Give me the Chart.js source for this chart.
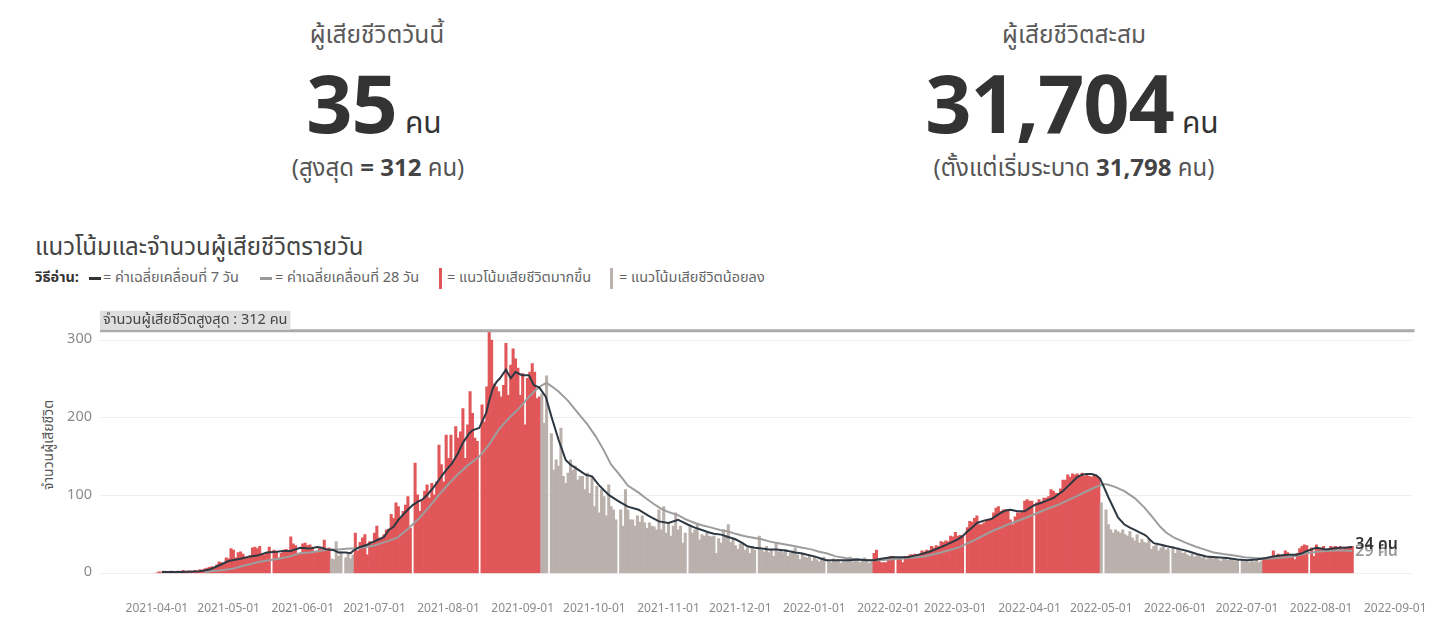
<!DOCTYPE html>
<html><head><meta charset="utf-8">
<script src="https://cdn.jsdelivr.net/npm/chart.js@4.4.1/dist/chart.umd.min.js"></script>
<style>
html,body{margin:0;padding:0;background:#fff;width:1448px;height:636px;overflow:hidden;
 font-family:"Noto Sans Thai","Noto Sans Thai UI","Noto Sans","Open Sans",sans-serif;}
.abs{position:absolute;white-space:nowrap;}
.kpi{position:absolute;text-align:center;white-space:nowrap;}
.klabel{font-size:24.5px;line-height:30px;color:#5a5a5a;}
.knum{font-size:81px;line-height:81px;color:#333;font-family:"Open Sans","Noto Sans Thai",sans-serif;font-weight:700;letter-spacing:-1px;}
.knum .u{font-size:30px;font-weight:400;font-family:"Noto Sans Thai","Noto Sans",sans-serif;letter-spacing:0;margin-left:8px;}
.ksub{font-size:24px;line-height:34px;color:#555;}
.ksub b{color:#444;}
.title{font-size:24px;line-height:34px;color:#444;left:35px;top:231px;}
.leg{font-size:14.5px;line-height:20px;color:#666;top:268px;}
.dash{position:absolute;height:3px;width:12px;top:277px;}
.vbar{position:absolute;width:3px;height:21px;top:268px;}
#ytitle{position:absolute;left:48px;top:445px;transform:translate(-50%,-50%) rotate(-90deg);font-size:14px;color:#555;white-space:nowrap;}
#wrap{position:absolute;left:0;top:300px;width:1448px;height:336px;}
</style></head>
<body>
<div class="kpi" style="left:177px;width:400px;top:21px"><div class="klabel">ผู้เสียชีวิตวันนี้</div></div>
<div class="kpi" style="left:174px;width:400px;top:61px"><div class="knum"><span id="todayNum"></span><span class="u">คน</span></div></div>
<div class="kpi" style="left:178px;width:400px;top:152px"><div class="ksub">(สูงสุด <b>= <span id="peakNum"></span></b> คน)</div></div>

<div class="kpi" style="left:874px;width:400px;top:21px"><div class="klabel">ผู้เสียชีวิตสะสม</div></div>
<div class="kpi" style="left:872px;width:400px;top:61px"><div class="knum"><span id="cumNum"></span><span class="u">คน</span></div></div>
<div class="kpi" style="left:874px;width:400px;top:152px"><div class="ksub">(ตั้งแต่เริ่มระบาด <b><span id="allNum"></span></b> คน)</div></div>

<div class="abs title">แนวโน้มและจำนวนผู้เสียชีวิตรายวัน</div>
<div class="abs leg" style="left:35px;color:#333;font-weight:700">วิธีอ่าน:</div>
<div class="dash" style="left:89px;background:#333"></div>
<div class="abs leg" style="left:103px">= ค่าเฉลี่ยเคลื่อนที่ 7 วัน</div>
<div class="dash" style="left:260px;background:#999"></div>
<div class="abs leg" style="left:275px">= ค่าเฉลี่ยเคลื่อนที่ 28 วัน</div>
<div class="vbar" style="left:439px;background:#e15759"></div>
<div class="abs leg" style="left:447px">= แนวโน้มเสียชีวิตมากขึ้น</div>
<div class="vbar" style="left:610px;background:#bab0ac"></div>
<div class="abs leg" style="left:619px">= แนวโน้มเสียชีวิตน้อยลง</div>

<div id="ytitle">จำนวนผู้เสียชีวิต</div>
<div id="wrap"><canvas id="c"></canvas></div>

<script>
// ---------- DATA ----------
const todayDeaths = 35;
const cumulativeDeaths = 31704;
const totalSinceStart = 31798;
const startDate = '2021-04-01';

// daily deaths from 2021-04-01 to 2022-08-14 (null = no bar shown)
const dailyDeaths = [
 1,2,1,3,2,2,3,2,1,3,
 2,4,2,3,3,2,4,3,5,4,
 6,7,8,9,7,11,15,14,12,20,
 19,32,30,20,27,28,25,21,20,23,
 33,34,32,35,25,24,27,34,null,30,
 28,20,26,30,31,28,47,38,36,26,
 25,38,39,36,37,34,28,27,32,31,
 43,32,33,19,18,41,22,28,null,20,
 25,19,24,52,29,40,46,50,24,41,
 38,52,61,46,44,50,56,57,76,71,
 91,86,71,80,88,99,58,null,142,101,
 80,93,106,114,97,116,101,118,165,140,
 118,178,148,178,144,189,174,182,212,148,
 191,234,206,174,170,null,217,195,240,312,
 300,244,240,234,227,242,296,229,268,289,
 276,264,229,257,191,251,259,270,259,225,
 227,231,193,254,null,180,133,146,138,187,
 125,116,129,146,133,138,120,125,125,108,
 129,103,125,86,112,78,108,99,74,114,
 86,82,69,null,82,61,108,82,69,69,
 61,74,66,74,65,58,65,61,60,56,
 82,56,86,52,65,48,61,78,56,61,
 39,52,null,61,52,56,63,43,50,48,
 52,48,47,48,26,45,39,56,48,63,
 40,44,36,31,38,39,30,33,26,35,
 30,null,48,30,28,35,27,31,22,39,
 28,30,27,31,22,26,29,33,24,18,
 26,21,20,23,16,22,18,15,19,21,
 null,17,14,19,16,18,13,15,17,19,
 21,15,17,19,14,18,20,16,13,15,
 26,30,18,14,14,14,20,22,22,null,
 20,20,14,22,22,24,24,25,23,24,
 29,28,30,29,35,33,36,35,41,40,
 42,41,48,47,53,48,49,48,null,59,
 67,66,71,74,63,63,65,69,69,70,
 78,84,86,80,82,82,82,69,63,73,
 78,78,80,93,95,93,93,null,91,95,
 92,97,97,99,108,106,103,103,109,120,
 120,127,124,128,127,128,126,129,125,128,
 125,124,126,125,123,91,null,82,63,56,
 52,56,54,52,56,50,48,54,46,42,
 50,39,44,40,39,44,31,35,37,29,
 33,36,30,32,null,35,26,33,29,26,
 27,24,22,25,21,23,24,20,22,18,
 21,22,19,20,18,16,19,20,17,19,
 18,16,18,null,16,15,17,14,16,15,
 17,14,16,18,20,19,20,29,22,25,
 22,24,29,27,20,22,18,26,32,35,
 37,36,null,33,22,37,31,31,35,31,
 29,35,34,35,33,35,31,34,33,35,
 35
];

// trend periods (red = rising, gray = falling)
const trendPeriods = [
 ['2021-04-01','2021-06-12','up'],
 ['2021-06-13','2021-06-22','down'],
 ['2021-06-23','2021-09-08','up'],
 ['2021-09-09','2022-01-25','down'],
 ['2022-01-26','2022-04-30','up'],
 ['2022-05-01','2022-07-07','down'],
 ['2022-07-08','2022-08-14','up']
];

// 7-day moving average: [day offset from startDate, value]
const ma7Points = [[2,2],[10,2],[18,3],[22,5],[25,9],[30,16],[35,19],[39,22],[42,23],[46,27],[50,28],[53,29],[56,29],[60,33],[64,32],[67,34],[69,33],[71,31],[74,30],[76,27],[79,27],[81,26],[82,29],[84,33],[86,35],[88,37],[90,40],[93,44],[95,47],[97,56],[99,60],[101,69],[104,79],[107,88],[109,92],[111,95],[113,101],[115,108],[117,116],[119,125],[121,133],[123.5,142],[126,155],[128,168],[130.6,180],[132,184],[134.8,187],[136,195],[137.7,206],[139,222],[140.5,238],[142,246],[143.5,251],[146,262],[148,251],[150,259],[152.7,255],[155.6,255],[157.7,242],[160,239],[162.7,227],[165,202],[168,172],[171,146],[173,140],[176.5,133],[179.4,127],[182,125],[184.8,114],[187,107],[189,101],[193,93],[197,86],[201.5,82],[205.7,74],[210,67],[214,65],[218,69],[219.4,67],[222,63],[225,59],[228,56],[230.7,53],[233,51],[236,50],[239,47],[242,44],[245,39],[247,35],[250,33],[253,32],[256,31],[259,31],[262,30],[264,29],[267,27],[269.5,26],[272,24],[275,22],[278,19],[280,17],[285,17],[290,17],[293,18],[297,17],[300,17],[303,19],[307,21],[310,21],[314,21],[317,23],[321,26],[324,29],[328,34],[331,38],[335,44],[337,48],[339,54],[341,59],[343,65],[346,68],[349,70],[351,74],[353,78],[355,81],[357,82],[358.5,81],[360,80],[363,80],[365,84],[367,88],[370,91],[372.5,94],[375,97],[376.7,101],[379,106],[381,112],[383,118],[385,124],[387,127],[389,128],[391,128],[393,126],[394.5,122],[396,112],[398,98],[400.5,82],[402,72],[404.7,63],[407,59],[409,56],[411,53],[413,50],[414,48],[415.5,43],[417,39],[420,37],[422.6,35],[427,32],[431,29],[435,25],[439,22],[443,21],[447.6,20],[452,18],[456,17],[460,18],[464,20],[467,22],[469.8,23],[473,24],[476.8,24],[479,26],[481,29],[483,31],[485,33],[487,32],[489,31],[492,32],[494.8,33],[497,33],[500,34]];

// 28-day moving average: [day offset from startDate, value]
const ma28Points = [[20,2],[22,3],[26,4],[31.7,6],[35,9],[38.8,12],[43,15],[47,17],[51,19],[55.5,22],[59.7,26],[64,27],[68,29],[72,31],[76,31],[80.5,32],[84,32],[87.6,34],[91,36],[94,39],[97,42],[100.5,46],[103,52],[106,60],[109.7,71],[114,86],[118,101],[122,115],[126.4,129],[130,139],[134.8,150],[139,166],[143,185],[147,199],[151.4,212],[155,225],[158.5,236],[161,242],[163,245],[165,241],[168,234],[172,222],[176.5,205],[180,192],[183.6,176],[187,158],[190,140],[193,129],[197,113],[201.5,104],[204.4,97],[208,89],[211,83],[214,79],[218,75],[221,70],[225,65],[228,62],[232,59],[235.5,56],[239,54],[242,51],[246,48],[249.5,46],[253,44],[256.5,41],[260,39],[263.5,37],[267,35],[270,33],[273.7,31],[277,28],[280,26],[284,22],[288,20],[293,18],[298,17],[302,17],[307,18],[314,20],[321,22],[328,27],[335,33],[342,43],[349,54],[356,63],[363,71],[370,80],[376.7,88],[383,97],[390.5,108],[394,113],[396,115],[398,114],[401,111],[404.7,106],[409,97],[413,85],[416,74],[419.7,60],[422,53],[425.5,46],[430,40],[434,35],[438,31],[442,27],[446,25],[450.7,23],[455,21],[459,20],[464,19],[468,20],[472.7,21],[477,23],[481,26],[485,28],[489,29],[494,30],[500,29]];

const xTickLabels = ['2021-04-01','2021-05-01','2021-06-01','2021-07-01','2021-08-01','2021-09-01','2021-10-01','2021-11-01','2021-12-01','2022-01-01','2022-02-01','2022-03-01','2022-04-01','2022-05-01','2022-06-01','2022-07-01','2022-08-01','2022-09-01'];
const yTickValues = [0,100,200,300];

// ---------- RENDER ----------
const FONT = '"Noto Sans Thai","Noto Sans Thai UI","Noto Sans","Open Sans",sans-serif';
const dayIndex = s => Math.round((Date.parse(s) - Date.parse(startDate)) / 86400000);
const fmt = n => n.toLocaleString('en-US');

document.getElementById('todayNum').textContent = todayDeaths;
document.getElementById('cumNum').textContent = fmt(cumulativeDeaths);
document.getElementById('allNum').textContent = fmt(totalSinceStart);
const peak = Math.max(...dailyDeaths.filter(v => v != null));
document.getElementById('peakNum').textContent = peak;

const RED = '#e15759', GRAY = '#bab0ac';
const colorFor = i => {
  for (const [a, b, t] of trendPeriods) {
    if (i >= dayIndex(a) && i <= dayIndex(b)) return t === 'up' ? RED : GRAY;
  }
  return GRAY;
};

const annot = {
  id: 'annot',
  afterDatasetsDraw(chart) {
    const {ctx, chartArea: a, scales: {x, y}} = chart;
    const py = y.getPixelForValue(peak);
    ctx.save();
    ctx.strokeStyle = '#ababab'; ctx.lineWidth = 3;
    ctx.beginPath(); ctx.moveTo(a.left, py); ctx.lineTo(a.right + 3, py); ctx.stroke();
    ctx.font = '14.5px ' + FONT;
    const txt = 'จำนวนผู้เสียชีวิตสูงสุด : ' + peak + ' คน';
    const w = ctx.measureText(txt).width + 6;
    ctx.fillStyle = '#dedede'; ctx.fillRect(a.left, py - 20, w, 19);
    ctx.fillStyle = '#444'; ctx.textBaseline = 'middle'; ctx.textAlign = 'left';
    ctx.fillText(txt, a.left + 3, py - 10);
    // end labels
    const l28 = ma28Points[ma28Points.length - 1], l7 = ma7Points[ma7Points.length - 1];
    ctx.font = '600 16px ' + FONT;
    ctx.fillStyle = '#9b9b9b';
    ctx.fillText(l28[1] + ' คน', x.getPixelForValue(l28[0]) + 3, y.getPixelForValue(l28[1]) + 2);
    ctx.fillStyle = '#333';
    ctx.fillText(l7[1] + ' คน', x.getPixelForValue(l7[0]) + 3, y.getPixelForValue(l7[1]) - 1);
    ctx.restore();
  }
};

new Chart(document.getElementById('c'), {
  type: 'bar',
  data: {
    datasets: [
      {
        type: 'line', label: 'MA7', order: 1,
        data: ma7Points.map(([d, v]) => ({x: d, y: v})),
        borderColor: '#2e3842', borderWidth: 2, pointRadius: 0, tension: 0, fill: false
      },
      {
        type: 'line', label: 'MA28', order: 2,
        data: ma28Points.map(([d, v]) => ({x: d, y: v})),
        borderColor: '#9d9d9d', borderWidth: 2, pointRadius: 0, tension: 0, fill: false
      },
      {
        type: 'bar', label: 'daily', order: 3,
        data: dailyDeaths.map((v, i) => ({x: i, y: v})),
        backgroundColor: dailyDeaths.map((v, i) => colorFor(i)),
        borderWidth: 0, barPercentage: 1, categoryPercentage: 1, grouped: false
      }
    ]
  },
  options: {
    responsive: true, maintainAspectRatio: false, animation: false,
    layout: {padding: {top: 24.6, right: 33, left: 0, bottom: 0}},
    plugins: {legend: {display: false}, tooltip: {enabled: false}},
    scales: {
      x: {
        type: 'linear', min: -23.8, max: 524.8, offset: false,
        grid: {display: false, offset: false}, border: {display: false},
        afterBuildTicks: s => { s.ticks = xTickLabels.map(l => ({value: dayIndex(l)})); },
        afterFit: s => { s.height = 62.5; },
        ticks: {
          autoSkip: false, maxRotation: 0, minRotation: 0, padding: 21,
          color: '#8a8a8a', font: {size: 12, family: FONT},
          callback: (v, i) => xTickLabels[i]
        }
      },
      y: {
        type: 'linear', min: 0, max: 320,
        grid: {color: '#eeeeee', drawTicks: false}, border: {display: false},
        afterBuildTicks: s => { s.ticks = yTickValues.map(v => ({value: v})); },
        afterFit: s => { s.width = 100; },
        ticks: {padding: 8, color: '#8a8a8a', font: {size: 14.5, family: FONT}}
      }
    }
  },
  plugins: [annot]
});
</script>
</body></html>
